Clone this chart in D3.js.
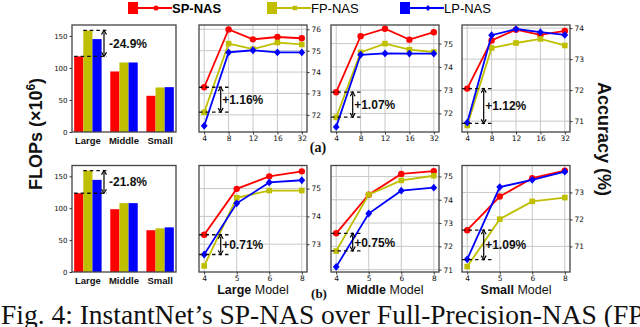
<!DOCTYPE html>
<html>
<head>
<meta charset="utf-8">
<script src="https://cdn.jsdelivr.net/npm/d3@7"></script>
<style>
  body { margin:0; background:#fff; overflow:hidden; }
  svg { display:block; }
</style>
</head>
<body>
<div id="chart"></div>
<script>
// ---- data ----
const seriesNames = ["SP-NAS", "FP-NAS", "LP-NAS"];
const seriesColors = ["#ff0000", "#bfbf00", "#0000ff"];

const flopGroups = ["Large", "Middle", "Small"];
const flopTicks = [0, 50, 100, 150];
const flopsA_sp = [118, 94.5, 56.5];
const flopsA_fp = [158.5, 108.5, 69.5];
const flopsA_lp = [145, 108.5, 70];
const flopsB_sp = [123.5, 98.5, 65.5];
const flopsB_fp = [159, 108, 68.5];
const flopsB_lp = [144.5, 108, 70];
const flopGains = ["-24.9%", "-21.8%"];

const bitsA = ["4", "8", "12", "16", "32"];
const bitsB = ["4", "5", "6", "8"];

// row (a)
const a1_sp = [73.29, 75.99, 75.53, 75.64, 75.58];
const a1_fp = [72.12, 75.33, 75.07, 75.38, 75.29];
const a1_lp = [71.49, 74.92, 75.02, 74.92, 74.92];
const a2_sp = [72.91, 75.32, 75.64, 75.17, 75.49];
const a2_fp = [71.83, 74.62, 75.0, 74.74, 74.64];
const a2_lp = [71.42, 74.52, 74.58, 74.57, 74.57];
const a3_sp = [72.05, 73.6, 73.95, 73.78, 73.91];
const a3_fp = [70.86, 73.36, 73.52, 73.65, 73.44];
const a3_lp = [70.95, 73.77, 73.97, 73.87, 73.78];
// row (b)
const b1_sp = [73.34, 74.99, 75.44, 75.62];
const b1_fp = [72.22, 74.67, 74.93, 74.93];
const b1_lp = [72.63, 74.47, 75.22, 75.3];
const b2_sp = [72.56, 74.22, 75.11, 75.23];
const b2_fp = [71.8, 74.22, 74.83, 75.03];
const b2_lp = [71.12, 73.41, 74.39, 74.52];
const b3_sp = [71.6, 72.85, 73.53, 73.81];
const b3_fp = [70.25, 72.01, 72.67, 72.81];
const b3_lp = [70.52, 73.2, 73.47, 73.77];

const accGains = [1.16, 1.07, 1.12, 0.71, 0.75, 1.09];
const yDomains = [[71.2, 76.2], [71.2, 75.8], [70.65, 74.1], [72.0, 75.83], [70.9, 75.47], [70.05, 74.0]];
const yTickSets = [[72, 73, 74, 75, 76], [72, 73, 74, 75], [71, 72, 73, 74], [73, 74, 75], [71, 72, 73, 74, 75], [71, 72, 73]];
const modelNames = ["Large", "Middle", "Small"];

// ---- layout ----
const W = 640, H = 327;
const cols = [[199, 307], [331, 439], [462, 570]];
const rows = [[25, 132], [165.5, 272]];
const barCol = [72, 176];
const sansB = "'Liberation Sans', Arial, sans-serif";
const tickFont = "'DejaVu Sans', sans-serif";
const serif = "'Liberation Serif', 'Times New Roman', serif";

const svg = d3.select("#chart").append("svg")
    .attr("width", W).attr("height", H)
    .attr("viewBox", `0 0 ${W} ${H}`);

function drawMarker(g, i, x, y, k = 1) {
  let c = seriesColors[i];
  if (i == 0) {
    g.append("circle").attr("cx", x).attr("cy", y).attr("r", 3.2 * k).attr("fill", c);
  } else if (i == 1) {
    let s = 5.6 * k;
    g.append("rect").attr("x", x - s / 2).attr("y", y - s / 2).attr("width", s).attr("height", s).attr("fill", c);
  } else {
    let hw = 3.4 * k, hh = 3.9 * k;
    g.append("path").attr("d", `M${x},${y - hh}L${x + hw},${y}L${x},${y + hh}L${x - hw},${y}Z`).attr("fill", c);
  }
}

// ---- legend ----
let legX = [128, 267, 400];
seriesNames.forEach((n, i) => {
  let g = svg.append("g").attr("transform", `translate(${legX[i]},0)`);
  g.append("rect").attr("x", 0).attr("y", 2).attr("width", 10).attr("height", 12)
    .attr("fill", seriesColors[i]);
  g.append("line").attr("x1", 10).attr("x2", 44).attr("y1", 8).attr("y2", 8)
    .attr("stroke", seriesColors[i]).attr("stroke-width", 2);
  drawMarker(g, i, 28, 8, 0.8);
  g.append("text").attr("x", 44).attr("y", 12.5)
    .attr("font-family", sansB).attr("font-size", 13)
    .attr("font-weight", i == 0 ? "bold" : "normal")
    .attr("fill", "#000").text(n);
});

function dashedLine(g, x1, x2, y) {
  g.append("line").attr("x1", x1).attr("x2", x2).attr("y1", y).attr("y2", y)
    .attr("stroke", "#111").attr("stroke-width", 1.3).attr("stroke-dasharray", "3.5,3");
}
function dblArrow(g, x, ya, yb) {
  g.append("line").attr("x1", x).attr("x2", x).attr("y1", ya + 2).attr("y2", yb - 2)
    .attr("stroke", "#000").attr("stroke-width", 1.2);
  g.append("path").attr("d", `M${x - 2.5},${ya + 4}L${x},${ya}L${x + 2.5},${ya + 4}`)
    .attr("fill", "none").attr("stroke", "#000").attr("stroke-width", 1.2);
  g.append("path").attr("d", `M${x - 2.5},${yb - 4}L${x},${yb}L${x + 2.5},${yb - 4}`)
    .attr("fill", "none").attr("stroke", "#000").attr("stroke-width", 1.2);
}

// ---- bar charts ----
function barChart(ri, sp, fp, lp, gain) {
  let [y0, y1] = rows[ri];
  let g = svg.append("g");
  let x = d3.scaleBand().domain(flopGroups).range(barCol).paddingInner(0.24).paddingOuter(0.06);
  let xs = d3.scaleBand().domain(d3.range(3)).range([0, x.bandwidth()]);
  let y = d3.scaleLinear().domain([0, 167]).range([y1, y0]);
  let vals = [sp, fp, lp];
  flopGroups.forEach((grp, gi) => {
    vals.forEach((v, si) => {
      g.append("rect")
        .attr("x", x(grp) + xs(si)).attr("width", xs.bandwidth())
        .attr("y", y(v[gi])).attr("height", y(0) - y(v[gi]))
        .attr("fill", seriesColors[si]);
    });
  });
  g.append("rect").attr("x", barCol[0]).attr("y", y0).attr("width", barCol[1] - barCol[0])
    .attr("height", y1 - y0).attr("fill", "none").attr("stroke", "#444").attr("stroke-width", 1.3);
  let ay = g.append("g").attr("transform", `translate(${barCol[0]},0)`)
    .call(d3.axisLeft(y).tickValues(flopTicks).tickSize(2.5).tickPadding(2));
  ay.select(".domain").remove();
  ay.selectAll("text").attr("font-family", tickFont).attr("font-size", 7).attr("fill", "#111");
  ay.selectAll("line").attr("stroke", "#333");
  let ax = g.append("g").attr("transform", `translate(0,${y1})`)
    .call(d3.axisBottom(x).tickSize(0).tickPadding(5));
  ax.select(".domain").remove();
  ax.selectAll("text").attr("font-family", sansB).attr("font-weight", "bold")
    .attr("font-size", 9.5).attr("fill", "#111");
  // annotation
  let xe = barCol[0] + 35;
  let yTop = y(fp[0]), yBot = y(sp[0]);
  dashedLine(g, x("Large") + xs(1), xe, yTop);
  dashedLine(g, x("Large"), xe, yBot);
  dblArrow(g, xe - 3, yTop, yBot);
  g.append("text").attr("x", xe + 2).attr("y", (yTop + yBot) / 2 + 4.5)
    .attr("font-family", sansB).attr("font-weight", "bold").attr("font-size", 12)
    .attr("fill", "#111").text(gain);
}
barChart(0, flopsA_sp, flopsA_fp, flopsA_lp, flopGains[0]);
barChart(1, flopsB_sp, flopsB_fp, flopsB_lp, flopGains[1]);

// ---- line charts ----
function lineChart(idx, cats, sp, fp, lp) {
  let ri = Math.floor(idx / 3), ci = idx % 3;
  let [xa, xb] = cols[ci], [y0, y1] = rows[ri];
  let g = svg.append("g");
  let x = d3.scalePoint().domain(cats).range([xa + 5.2, xb - 5.2]);
  let y = d3.scaleLinear().domain(yDomains[idx]).range([y1, y0]);
  // grid
  g.selectAll(null).data(cats).enter().append("line")
    .attr("x1", d => x(d)).attr("x2", d => x(d)).attr("y1", y0).attr("y2", y1)
    .attr("stroke", "#c8c8c8").attr("stroke-width", 1);
  g.selectAll(null).data(yTickSets[idx]).enter().append("line")
    .attr("x1", xa).attr("x2", xb).attr("y1", d => y(d)).attr("y2", d => y(d))
    .attr("stroke", "#c8c8c8").attr("stroke-width", 1);
  // series
  let line = d3.line().x((d, i) => x(cats[i])).y(d => y(d));
  [sp, fp, lp].forEach((v, si) => {
    g.append("path").datum(v).attr("d", line).attr("fill", "none")
      .attr("stroke", seriesColors[si]).attr("stroke-width", 1.8);
    v.forEach((d, i) => drawMarker(g, si, x(cats[i]), y(d)));
  });
  // frame
  g.append("rect").attr("x", xa).attr("y", y0).attr("width", xb - xa).attr("height", y1 - y0)
    .attr("fill", "none").attr("stroke", "#444").attr("stroke-width", 1.3);
  let ay = g.append("g").attr("transform", `translate(${xb},0)`)
    .call(d3.axisRight(y).tickValues(yTickSets[idx]).tickSize(2.5).tickPadding(2).tickFormat(d3.format("d")));
  ay.select(".domain").remove();
  ay.selectAll("text").attr("font-family", tickFont).attr("font-size", 7.5).attr("fill", "#111");
  ay.selectAll("line").attr("stroke", "#333");
  let ax = g.append("g").attr("transform", `translate(0,${y1})`)
    .call(d3.axisBottom(x).tickSize(2.5).tickPadding(1.5));
  ax.select(".domain").remove();
  ax.selectAll("text").attr("font-family", tickFont).attr("font-size", 7.5).attr("fill", "#111");
  ax.selectAll("line").attr("stroke", "#333");
  // gain annotation
  let x0 = x(cats[0]);
  let yt = y(sp[0]), yb = y(sp[0] - accGains[idx]);
  dashedLine(g, xa, x0 + 25, yt);
  dashedLine(g, xa, x0 + 25, yb);
  dblArrow(g, x0 + 16.5, yt, yb);
  g.append("text").attr("x", x0 + 18).attr("y", (yt + yb) / 2 + 4.5)
    .attr("font-family", sansB).attr("font-weight", "bold").attr("font-size", 12)
    .attr("fill", "#111").text("+" + accGains[idx].toFixed(2) + "%");
  if (ri == 1) {
    let t = g.append("text").attr("x", (xa + xb) / 2).attr("y", 294)
      .attr("text-anchor", "middle").attr("font-family", sansB).attr("font-size", 12.5).attr("fill", "#111");
    t.append("tspan").attr("font-weight", "bold").text(modelNames[ci]);
    t.append("tspan").text(" Model");
  }
}
lineChart(0, bitsA, a1_sp, a1_fp, a1_lp);
lineChart(1, bitsA, a2_sp, a2_fp, a2_lp);
lineChart(2, bitsA, a3_sp, a3_fp, a3_lp);
lineChart(3, bitsB, b1_sp, b1_fp, b1_lp);
lineChart(4, bitsB, b2_sp, b2_fp, b2_lp);
lineChart(5, bitsB, b3_sp, b3_fp, b3_lp);

// ---- axis titles ----
let fl = svg.append("text").attr("transform", "translate(42,134) rotate(-90)")
  .attr("text-anchor", "middle").attr("font-family", sansB).attr("font-weight", "bold")
  .attr("font-size", 18).attr("fill", "#111");
fl.append("tspan").text("FLOPs (\u00d710");
fl.append("tspan").attr("font-size", 12).attr("dy", -7).text("6");
fl.append("tspan").attr("dy", 7).text(")");

svg.append("text").attr("transform", "translate(598,139) rotate(90)")
  .attr("text-anchor", "middle").attr("font-family", sansB).attr("font-weight", "bold")
  .attr("font-size", 18).attr("fill", "#111").text("Accuracy (%)");

svg.append("text").attr("x", 318).attr("y", 152).attr("text-anchor", "middle")
  .attr("font-family", serif).attr("font-weight", "bold")
  .attr("font-size", 14).attr("fill", "#111").text("(a)");
svg.append("text").attr("x", 319).attr("y", 298).attr("text-anchor", "middle")
  .attr("font-family", serif).attr("font-weight", "bold")
  .attr("font-size", 13).attr("fill", "#111").text("(b)");

// ---- caption (clipped at the right edge, as in the source) ----
svg.append("text").attr("x", 1).attr("y", 324)
  .attr("font-family", serif)
  .attr("font-size", 27.5).attr("fill", "#111")
  .text("Fig. 4: InstantNet\u2019s SP-NAS over Full-Precision-NAS (FP-NAS)");
</script>
</body>
</html>
